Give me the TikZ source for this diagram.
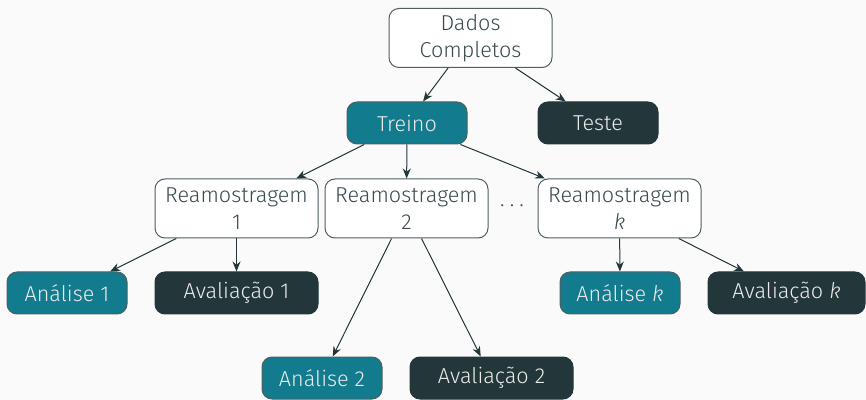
\documentclass[tikz,border=0pt]{standalone}
\usepackage{fontspec}
\setmainfont{Fira Sans}[UprightFont=* Light, ItalicFont=* Light Italic]
\usetikzlibrary{arrows.meta, positioning}
\definecolor{cteal}{HTML}{127B8D}
\definecolor{cdark}{HTML}{23373B}
\definecolor{ctext}{HTML}{3A4B4F}
\definecolor{cbg}{HTML}{FAFAFA}
\tikzset{
  every picture/.style={font=\fontsize{10.8}{13.6}\selectfont, line width=0.5pt},
  box/.style={draw=cdark!80, fill=#1, rounded corners=5pt, align=center, inner sep=2pt, minimum height=21pt},
  box/.default=white,
  plain/.style={box=white, text=ctext, minimum width=81.5pt, minimum height=29.5pt},
  light/.style={box=cteal, text=white!92!black, minimum width=60pt},
  dark/.style={box=cdark, draw=cdark, text=white!92!black, minimum width=81.5pt},
  arrow/.style={-{Stealth[length=5pt, width=4pt]}, draw=cdark, line width=0.5pt},
}
\begin{document}
\begin{tikzpicture}[x=0.5pt, y=-0.5pt]
  \fill[cbg] (0,0) rectangle (866,400);
  \useasboundingbox (0,0) rectangle (866,400);
  \node[plain] (dados) at (470.5,38)  {Dados\\Completos};
  \node[light] (treino) at (407,123)  {Treino};
  \node[dark]  (teste)  at (598,123) [minimum width=60pt] {Teste};
  \node[plain] (ream1) at (236.5,208.5) {Reamostragem\\1};
  \node[plain] (ream2) at (406.5,208.5) {Reamostragem\\2};
  \node[text=ctext] (dots) at (512,206) {.\kern2.6pt.\kern2.6pt.};
  \node[plain] (reamk) at (619.5,208.5) {Reamostragem\\\textit{k}};
  \node[light] (anal1) at (67,293)    {Análise 1};
  \node[dark]  (aval1) at (236.5,293) {Avaliação 1};
  \node[light] (anal2) at (322,378)   {Análise 2};
  \node[dark]  (aval2) at (491.5,378) {Avaliação 2};
  \node[light] (analk) at (620,293)   {Análise \textit{k}};
  \node[dark]  (avalk) at (786.5,293) [minimum width=78.5pt] {Avaliação \textit{k}};
  \draw[arrow] (dados) -- (treino); \draw[arrow] (dados) -- (teste);
  \draw[arrow] (treino) -- (ream1); \draw[arrow] (treino) -- (ream2); \draw[arrow] (treino) -- (reamk);
  \draw[arrow] (ream1) -- (anal1); \draw[arrow] (ream1) -- (aval1);
  \draw[arrow] (ream2) -- (anal2); \draw[arrow] (ream2) -- (aval2);
  \draw[arrow] (reamk) -- (analk); \draw[arrow] (reamk) -- (avalk);
\end{tikzpicture}
\end{document}
